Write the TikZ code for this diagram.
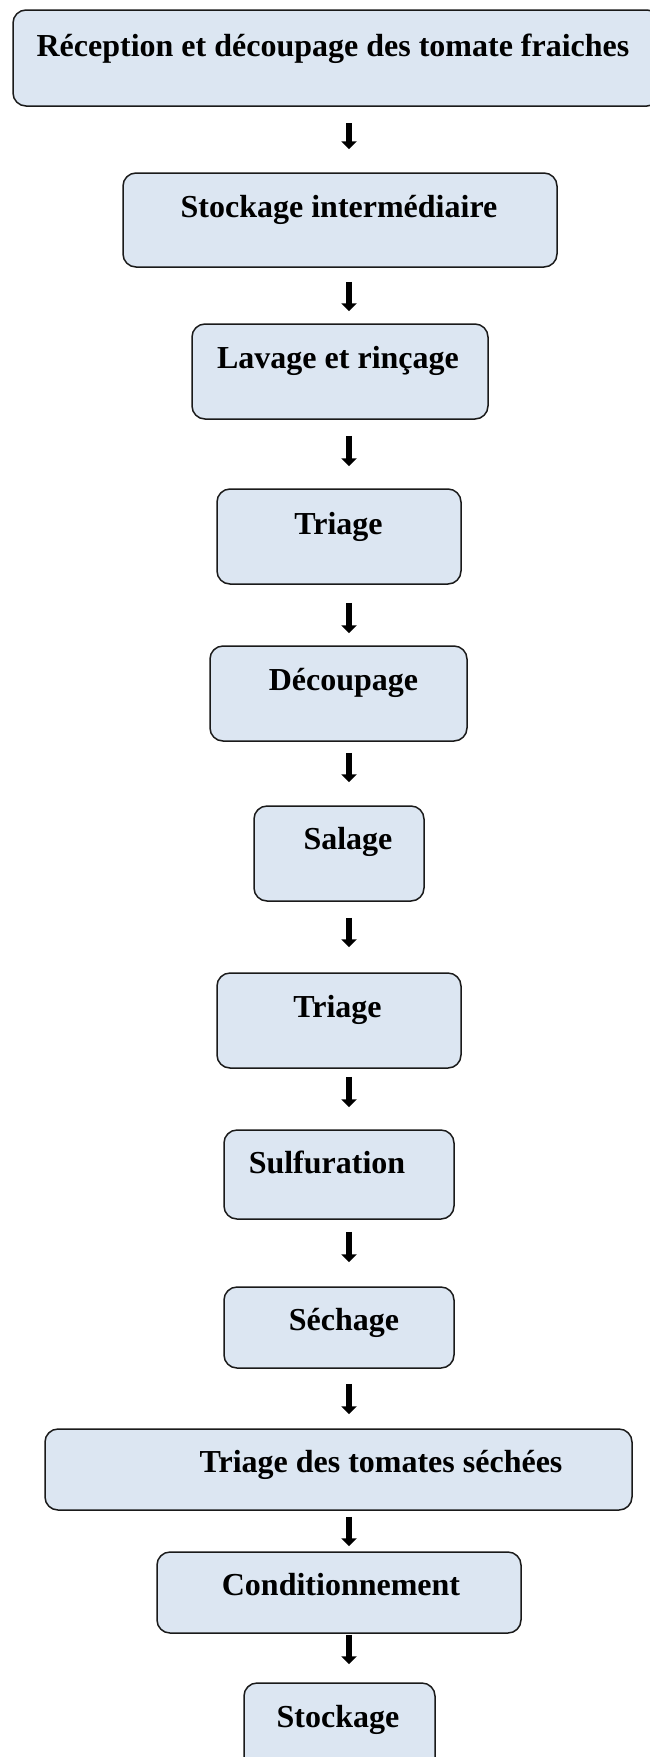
\documentclass[tikz,border=0pt]{standalone}
\usepackage{fontspec}
\setmainfont{Liberation Serif}
\usetikzlibrary{arrows.meta}
\definecolor{boxfill}{HTML}{DCE6F2}
\definecolor{boxline}{HTML}{1A1A1A}
\tikzset{
  box/.style={draw=boxline, line width=1.5pt, fill=boxfill, rounded corners=13pt},
  lbl/.style={anchor=base, inner sep=0pt, font=\bfseries\fontsize{32}{38}\selectfont},
  arr/.style={line width=6pt, -{Triangle[width=15pt,length=8pt]}, black}
}
\begin{document}
\begin{tikzpicture}[x=1pt,y=-1pt]
\useasboundingbox (0,0) rectangle (649,1757);
\fill[white] (0,0) rectangle (649,1757);
\coordinate (ax) at (349,0);
% boxes
\path[box] (13,10) rectangle (660,106);
\node[inner sep=0pt, minimum width=647pt, minimum height=96pt] (b1) at (336.5,58) {};
\node[box, minimum width=434pt, minimum height=94pt] (b2) at (340,220) {};
\node[box, minimum width=296pt, minimum height=95pt] (b3) at (340,371.5) {};
\node[box, minimum width=244pt, minimum height=95pt] (b4) at (339,536.5) {};
\node[box, minimum width=257pt, minimum height=95pt] (b5) at (338.5,693.5) {};
\node[box, minimum width=170pt, minimum height=95pt] (b6) at (339,853.5) {};
\node[box, minimum width=244pt, minimum height=95pt] (b7) at (339,1020.5) {};
\node[box, minimum width=230pt, minimum height=89pt] (b8) at (339,1174.5) {};
\node[box, minimum width=230pt, minimum height=81pt] (b9) at (339,1327.5) {};
\node[box, minimum width=587pt, minimum height=81pt] (b10) at (338.5,1469.5) {};
\node[box, minimum width=364pt, minimum height=81pt] (b11) at (339,1592.5) {};
\node[box, minimum width=191pt, minimum height=95pt] (b12) at (339.5,1730.5) {};
% labels
\node[lbl] (t1) at (333,56) {Réception et découpage des tomate fraiches};
\node[lbl] (t2) at (339,217) {Stockage intermédiaire};
\node[lbl] (t3) at (338,368) {Lavage et rinçage};
\node[lbl] (t4) at (338.5,534) {Triage};
\node[lbl] (t5) at (343.5,690) {Découpage};
\node[lbl] (t6) at (348,849) {Salage};
\node[lbl] (t7) at (337.5,1017) {Triage};
\node[lbl] (t8) at (327,1173) {Sulfuration};
\node[lbl] (t9) at (344,1330) {Séchage};
\node[lbl] (t10) at (381,1472) {Triage des tomates séchées};
\node[lbl] (t11) at (341,1595) {Conditionnement};
\node[lbl] (t12) at (338,1727) {Stockage};
% arrows
\draw[arr, shorten <=17pt, shorten >=23pt] (ax |- b1.south) -- (ax |- b2.north);
\draw[arr, shorten <=14pt, shorten >=12pt] (ax |- b2.south) -- (ax |- b3.north);
\draw[arr, shorten <=16pt, shorten >=22pt] (ax |- b3.south) -- (ax |- b4.north);
\draw[arr, shorten <=18pt, shorten >=12pt] (ax |- b4.south) -- (ax |- b5.north);
\draw[arr, shorten <=11pt, shorten >=23pt] (ax |- b5.south) -- (ax |- b6.north);
\draw[arr, shorten <=16pt, shorten >=25pt] (ax |- b6.south) -- (ax |- b7.north);
\draw[arr, shorten <=8pt, shorten >=22pt] (ax |- b7.south) -- (ax |- b8.north);
\draw[arr, shorten <=12pt, shorten >=24pt] (ax |- b8.south) -- (ax |- b9.north);
\draw[arr, shorten <=15pt, shorten >=14pt] (ax |- b9.south) -- (ax |- b10.north);
\draw[arr, shorten <=6pt, shorten >=5pt] (ax |- b10.south) -- (ax |- b11.north);
\draw[arr, shorten <=1pt, shorten >=18pt] (ax |- b11.south) -- (ax |- b12.north);
\end{tikzpicture}
\end{document}
